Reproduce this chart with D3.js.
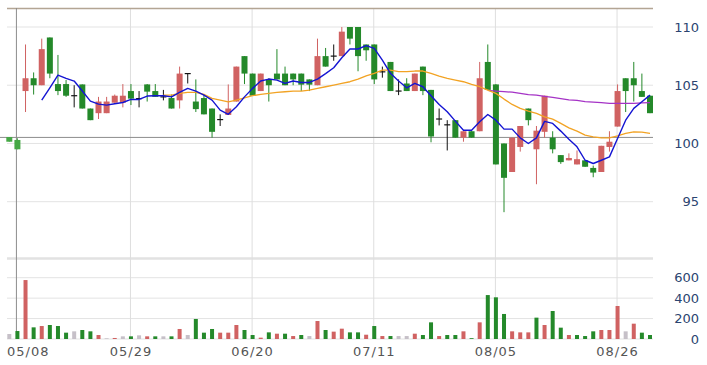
<!DOCTYPE html>
<html>
<head>
<meta charset="utf-8">
<script src="https://cdn.jsdelivr.net/npm/d3@7"></script>
<style>
  html, body { margin: 0; padding: 0; background: #fff; }
  svg text { font-family: "DejaVu Sans", Verdana, sans-serif; }
</style>
</head>
<body>
<div id="chart"></div>
<script>
// daily candles
const opens  = [100.55,100.3,104.5,105.6,105.0,109.1,105.1,105.1,104.1,105.07,
                103.0,102.6,102.6,103.5,103.5,104.5,103.85,105.07,104.5,104.0,
                103.9,103.7,106.0,103.6,103.9,103.0,102.05,102.45,103.6,107.5,
                106.0,104.5,105.5,106.0,106.0,106.0,106.0,105.5,105.0,107.5,
                107.5,107.5,110.0,110.0,108.5,108.5,106.15,107.0,104.5,105.15,
                104.5,106.6,104.6,102.1,101.6,102.0,100.5,101.05,101.05,107.0,
                105.07,100.0,97.55,99.7,103.0,99.5,101.0,100.5,99.0,98.55,
                98.2,98.55,97.9,97.55,99.7,101.45,105.6,105.6,104.5,104.1];
const highs  = [100.55,100.45,108.5,106.1,109.0,109.1,107.6,105.45,105.0,105.07,
                103.0,104.0,104.0,104.2,105.1,105.1,104.5,105.1,105.1,104.6,
                104.2,106.6,106.0,105.5,104.2,103.0,102.5,105.07,106.6,107.5,
                106.0,106.0,105.6,108.1,106.6,106.0,106.0,105.5,109.0,108.2,
                108.5,110.0,110.0,110.0,108.5,108.5,106.6,107.0,105.5,105.6,
                106.0,106.6,104.6,103.0,102.0,102.0,101.05,101.05,107.0,108.5,
                105.1,100.0,100.5,101.5,103.0,101.5,104.1,101.05,99.0,99.15,
                99.4,98.55,98.1,99.8,101.05,105.07,105.6,107.0,106.0,104.1];
const lows   = [100.15,99.5,102.7,104.2,105.0,105.6,104.15,104.0,103.1,103.0,
                102.0,102.1,102.6,103.5,103.1,103.3,103.1,103.6,104.0,103.7,
                103.0,103.0,105.15,102.7,102.5,100.5,101.5,102.45,103.6,105.1,
                104.1,104.5,103.6,105.5,105.0,105.0,104.5,104.5,105.0,106.6,
                107.1,107.5,108.5,106.2,107.1,105.1,105.65,104.5,104.15,104.5,
                104.5,104.15,100.1,101.55,99.4,100.5,100.15,100.5,101.05,104.6,
                98.2,94.1,97.55,99.3,101.55,96.5,100.5,99.15,98.25,98.55,
                98.2,98.0,97.1,97.55,99.3,101.45,102.7,103.6,104.0,102.6];
const closes = [100.15,99.5,105.6,105.0,108.1,106.0,104.5,104.1,104.1,103.0,
                102.0,103.6,103.6,104.1,104.1,103.85,103.85,104.45,104.0,104.0,
                103.0,106.0,106.0,102.95,102.5,101.0,102.05,103.0,106.6,106.0,
                104.1,106.0,105.0,105.5,105.0,105.5,105.05,105.05,107.5,106.6,
                107.5,109.6,109.0,107.5,108.0,105.5,106.15,104.5,104.5,104.5,
                106.0,104.5,100.6,102.1,101.6,100.5,101.05,100.5,105.6,104.6,
                98.2,97.05,100.5,101.5,102.0,101.1,104.1,99.5,98.4,98.75,
                98.65,98.0,97.5,99.8,100.15,104.5,104.5,105.0,104.0,102.6];
const volumes = [49,78,577,114,127,137,127,62,75,88,
                 75,39,7,10,26,26,36,26,26,26,
                 26,98,39,196,62,98,62,62,137,88,
                 39,13,65,52,52,29,39,29,176,88,
                 72,101,65,65,42,127,29,29,29,29,
                 52,39,163,29,39,39,75,8,163,430,
                 408,245,75,65,65,209,137,274,111,39,
                 39,29,75,88,88,323,75,150,62,39];

// moving averages as drawn (first point index given by *Start)
const ma5Start = 4;
const ma5 = [103.72,104.78,105.87,105.59,105.36,104.5,103.64,103.38,103.29,103.41,
             103.52,103.78,103.78,104.07,104.1,104.1,104.0,104.38,104.73,104.5,
             104.15,103.72,102.86,102.5,103.15,104.0,104.73,105.36,105.53,105.44,
             105.16,105.36,105.24,105.24,105.53,106.0,106.5,107.36,108.11,108.11,
             108.4,108.17,107.16,106.02,105.36,104.78,105.16,104.87,104.1,103.35,
             102.72,101.92,101.14,101.14,101.86,102.49,102.0,101.23,101.23,100.48,
             100.0,100.48,101.9,101.72,101.06,100.37,99.71,98.56,98.28,98.56,
             98.85,100.43,102.0,103.01,103.58,104.15];
const ma20Start = 19;
const ma20 = [104.15,104.15,104.3,104.38,104.38,104.21,103.87,103.72,103.58,103.72,
              103.92,104.1,104.21,104.3,104.38,104.44,104.5,104.5,104.58,104.73,
              104.87,105.01,105.16,105.3,105.53,105.81,106.02,106.3,106.3,106.16,
              106.16,106.22,106.22,106.02,105.79,105.59,105.44,105.3,105.07,104.87,
              104.58,104.3,103.81,103.35,103.01,102.78,102.58,102.29,102.09,101.72,
              101.34,101.06,100.71,100.57,100.48,100.48,100.65,100.86,101.0,100.97,100.86];
const ma60Start = 59;
const ma60 = [104.55,104.5,104.45,104.4,104.3,104.2,104.15,104.05,103.95,103.85,
              103.75,103.7,103.6,103.55,103.5,103.45,103.45,103.45,103.45,103.48,103.5];

const tickIndex = [0, 15, 30, 45, 60, 75];
const tickLabels = ["05/08", "05/29", "06/20", "07/11", "08/05", "08/26"];
const priceTicks = [95, 100, 105, 110];
const volumeTicks = [0, 200, 400, 600];
const cursorIndex = 1, cursorPrice = 100.52;

const width = 707, height = 365;
const left = 7, right = 653;
const RED = '#d06262', GREEN = '#24892a', LIGHTGREEN = '#45a845', GREY = '#c6c0c8';

const svg = d3.select('#chart').append('svg')
  .attr('width', width).attr('height', height);

const x = d3.scaleBand().domain(d3.range(closes.length)).range([5.25, 654.05]);
const cx = i => x(i) + x.bandwidth() / 2;
const y = d3.scaleLinear().domain([95, 110]).range([201.7, 27]);
const yv = d3.scaleLinear().domain([0, 600]).range([339, 277.7]);

// grid
svg.selectAll('.hgrid').data(priceTicks).enter().append('line')
  .attr('x1', left).attr('x2', right)
  .attr('y1', d => y(d)).attr('y2', d => y(d))
  .attr('stroke', '#e3e3e3').attr('stroke-width', 1);
svg.selectAll('.vgrid').data(volumeTicks).enter().append('line')
  .attr('x1', left).attr('x2', right)
  .attr('y1', d => yv(d)).attr('y2', d => yv(d))
  .attr('stroke', '#e3e3e3').attr('stroke-width', 1);
svg.append('line').attr('x1', left).attr('x2', right)
  .attr('y1', 258.5).attr('y2', 258.5)
  .attr('stroke', '#e2e2e2').attr('stroke-width', 2.5);
svg.selectAll('.xgrid').data(tickIndex.slice(1)).enter().append('line')
  .attr('x1', d => cx(d) - 0.5).attr('x2', d => cx(d) - 0.5)
  .attr('y1', 8).attr('y2', 339)
  .attr('stroke', '#dedede').attr('stroke-width', 1);

// top border
svg.append('line').attr('x1', left).attr('x2', right)
  .attr('y1', 8.5).attr('y2', 8.5)
  .attr('stroke', '#b3a594').attr('stroke-width', 1.5);

// cursor lines
svg.append('line').attr('x1', 0).attr('x2', right)
  .attr('y1', y(cursorPrice)).attr('y2', y(cursorPrice))
  .attr('stroke', '#8c8c8c').attr('stroke-width', 1);
svg.append('line').attr('x1', cx(cursorIndex) - 1).attr('x2', cx(cursorIndex) - 1)
  .attr('y1', 8).attr('y2', 339)
  .attr('stroke', '#8c8c8c').attr('stroke-width', 1);

// candles
const candleColor = i => {
  if (closes[i] === opens[i]) return '#111';
  const c = closes[i] > opens[i] ? RED : GREEN;
  return (i < 2 && c === GREEN) ? LIGHTGREEN : c;
};
const bodyW = 6;
const candles = svg.append('g').selectAll('g').data(d3.range(closes.length)).enter().append('g');
candles.append('line')
  .attr('x1', i => cx(i)).attr('x2', i => cx(i))
  .attr('y1', i => y(highs[i])).attr('y2', i => y(lows[i]))
  .attr('stroke', candleColor).attr('stroke-width', 1);
candles.filter(i => closes[i] !== opens[i]).append('rect')
  .attr('x', i => cx(i) - bodyW / 2).attr('width', bodyW)
  .attr('y', i => y(Math.max(opens[i], closes[i])))
  .attr('height', i => Math.max(1, Math.abs(y(opens[i]) - y(closes[i]))))
  .attr('fill', candleColor);
candles.filter(i => closes[i] === opens[i]).append('line')
  .attr('x1', i => cx(i) - 3).attr('x2', i => cx(i) + 3)
  .attr('y1', i => y(closes[i])).attr('y2', i => y(closes[i]))
  .attr('stroke', '#111').attr('stroke-width', 1.2);

// volume, coloured by change from previous close
const volColor = i => {
  if (i === 0 || closes[i] === closes[i - 1]) return GREY;
  return closes[i] > closes[i - 1] ? RED : GREEN;
};
svg.append('g').selectAll('rect').data(d3.range(volumes.length)).enter().append('rect')
  .attr('x', i => cx(i) - 2).attr('width', 4)
  .attr('y', i => yv(volumes[i]))
  .attr('height', i => yv(0) - yv(volumes[i]))
  .attr('fill', volColor);

// moving averages
function maLine(vals, start, color, w) {
  const line = d3.line().x((d, k) => cx(start + k)).y(d => y(d));
  svg.append('path').datum(vals).attr('d', line)
    .attr('fill', 'none').attr('stroke', color).attr('stroke-width', w)
    .attr('stroke-linejoin', 'round');
}
maLine(ma60, ma60Start, '#a533c6', 1.3);
maLine(ma20, ma20Start, '#f2a324', 1.3);
maLine(ma5, ma5Start, '#1414d2', 1.4);

// right axis labels
svg.selectAll('.plab').data(priceTicks).enter().append('text')
  .attr('x', 699).attr('y', d => y(d)).attr('dy', '0.36em')
  .attr('text-anchor', 'end').attr('font-size', 13).attr('fill', '#2b4470')
  .text(d => d);
svg.selectAll('.vlab').data(volumeTicks).enter().append('text')
  .attr('x', 699).attr('y', d => yv(d)).attr('dy', '0.36em')
  .attr('text-anchor', 'end').attr('font-size', 13).attr('fill', '#2b4470')
  .text(d => d);

// date labels
svg.selectAll('.xlab').data(tickIndex).enter().append('text')
  .attr('y', 351).attr('dy', '0.36em')
  .attr('font-size', 13).attr('fill', '#555').attr('letter-spacing', 1)
  .text((d, k) => tickLabels[k])
  .each(function (d) {
    const w = this.getComputedTextLength();
    d3.select(this).attr('x', Math.max(left, cx(d) - w / 2));
  });
</script>
</body>
</html>
